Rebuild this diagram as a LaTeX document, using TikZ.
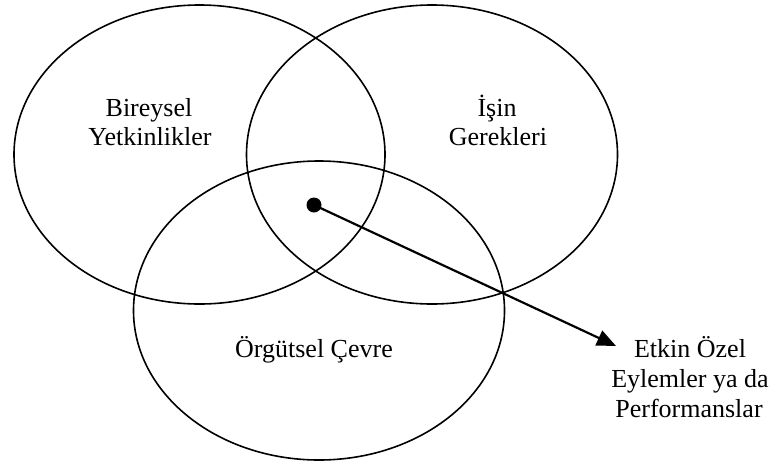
\documentclass[tikz,border=0pt]{standalone}
\usepackage{fontspec}
\setmainfont{Liberation Serif}
\usetikzlibrary{shapes.geometric,arrows.meta}
\begin{document}
\begin{tikzpicture}[x=1pt,y=-1pt,
  ring/.style={draw=black,line width=1.6pt,ellipse,minimum width=371pt,minimum height=299pt,inner sep=0pt},
  lbl/.style={anchor=base,inner sep=0pt,font=\fontsize{26}{30}\selectfont},
  pt/.style={circle,fill=black,minimum size=15pt,inner sep=0pt},
  arr/.style={line width=2.2pt,-{Triangle[length=19pt,width=16pt]}}]
\useasboundingbox (0,0) rectangle (773,464);
\fill[white] (0,0) rectangle (773,464);
\node[ring] (ind) at (199.5,154.5) {};
\node[ring] (job) at (432,154.5) {};
\node[ring] (org) at (319,310.5) {};
\node[lbl] (b1) at (149,116) {Bireysel};
\node[lbl] (b2) at (150,145.5) {Yetkinlikler};
\node[lbl] (j1) at (497,116) {İşin};
\node[lbl] (j2) at (498,145.5) {Gerekleri};
\node[lbl] (o1) at (314,357) {Örgütsel Çevre};
\node[lbl] (e1) at (690,357.5) {Etkin Özel};
\node[lbl] (e2) at (690,387.5) {Eylemler ya da};
\node[lbl] (e3) at (689,417.5) {Performanslar};
\node[pt] (dot) at (314,205) {};
\coordinate (tip) at (616,346);
\draw[arr] (dot.center) -- (tip);
\end{tikzpicture}
\end{document}
